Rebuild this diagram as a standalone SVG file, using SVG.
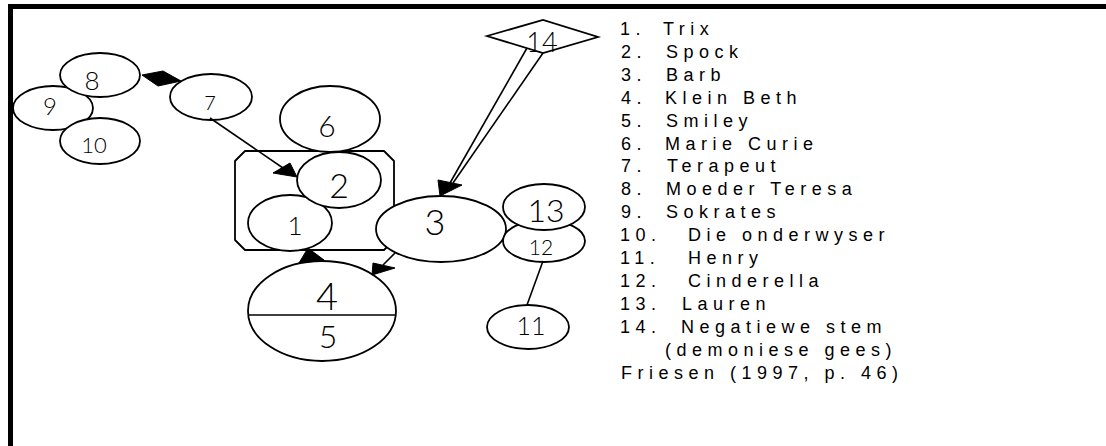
<svg xmlns="http://www.w3.org/2000/svg" width="1106" height="446" viewBox="0 0 1106 446">
<style>
.n{fill:#fff;stroke:#000;stroke-width:1.8}
.d{font-family:Lato,"Liberation Sans",Arial,sans-serif;font-weight:300;fill:#000;text-anchor:middle}
.c{stroke:#000;stroke-width:1.6;fill:none}
.h{fill:#000;stroke:#000;stroke-width:1}
.lg{font-family:"Liberation Sans",Arial,sans-serif;font-size:18px;letter-spacing:5.5px;fill:#000}
</style>
<rect x="0" y="0" width="1106" height="446" fill="#fff"/>
<g id="frame">
<rect x="8" y="4" width="1098" height="5" fill="#000"/>
<rect x="8" y="4" width="5" height="442" fill="#000"/>
</g>
<g id="group-1-2"><path class="n" d="M245,151 H384 L394,161 V240 L384,250 H245 L235,240 V161 Z" stroke-linejoin="round"/></g>
<g id="node-6"><ellipse class="n" cx="330" cy="119" rx="50" ry="33"/><text class="d" x="327" y="137" font-size="30">6</text></g>
<g id="node-1"><ellipse class="n" cx="290" cy="223" rx="42" ry="28"/><text class="d" x="295" y="235" font-size="26">1</text></g>
<g id="node-2"><ellipse class="n" cx="339" cy="180" rx="42" ry="28"/><text class="d" x="339" y="198" font-size="34">2</text></g>
<g id="node-3"><ellipse class="n" cx="441" cy="229" rx="65" ry="33"/><text class="d" x="435" y="235" font-size="36">3</text></g>
<g id="node-4-5"><ellipse class="n" cx="322" cy="311" rx="74" ry="50"/><line class="c" x1="248" y1="315" x2="396" y2="315"/><text class="d" x="327" y="310" font-size="38">4</text><text class="d" x="328" y="348" font-size="32">5</text></g>
<g id="node-12"><ellipse class="n" cx="544" cy="241" rx="41" ry="21"/><text class="d" x="541" y="255" font-size="21">12</text></g>
<g id="node-13"><ellipse class="n" cx="544" cy="207" rx="41" ry="23"/><text class="d" x="546" y="222" font-size="32">13</text></g>
<g id="node-11"><ellipse class="n" cx="528" cy="327" rx="41" ry="22"/><text class="d" x="531" y="335" font-size="25">11</text></g>
<g id="node-9"><ellipse class="n" cx="53" cy="108" rx="40" ry="22"/><text class="d" x="50" y="115" font-size="24">9</text></g>
<g id="node-8"><ellipse class="n" cx="100" cy="75" rx="40" ry="22"/><text class="d" x="92" y="90" font-size="26">8</text></g>
<g id="node-10"><ellipse class="n" cx="100" cy="141" rx="40" ry="23"/><text class="d" x="94" y="153" font-size="22">10</text></g>
<g id="node-7"><ellipse class="n" cx="211" cy="97" rx="41" ry="23"/><text class="d" x="210" y="110" font-size="20">7</text></g>
<g id="node-14"><polygon class="n" points="487,36 543,20 598,37 543,53"/><text class="d" x="542" y="52" font-size="27">14</text></g>
<g id="connectors">
<polygon class="h" points="142,75 163,71 181,81 158,86"/>
<line class="c" x1="210" y1="118" x2="283" y2="168"/>
<polygon class="h" points="297,177 273,173 290,163"/>
<line class="c" x1="527" y1="48" x2="450" y2="183"/>
<line class="c" x1="543" y1="53" x2="453" y2="183"/>
<polygon class="h" points="440,196 438,180 462,185"/>
<line class="c" x1="395" y1="253" x2="383" y2="265"/>
<polygon class="h" points="372,275 373,263 395,268"/>
<polygon class="h" points="308,248 299,263 324,260"/>
<line class="c" x1="543" y1="261" x2="527" y2="305"/>
</g>
<g id="legend">
<text class="lg" y="35"><tspan x="620">1.</tspan><tspan x="663">Trix</tspan></text>
<text class="lg" y="57.9"><tspan x="621">2.</tspan><tspan x="666">Spock</tspan></text>
<text class="lg" y="80.8"><tspan x="621">3.</tspan><tspan x="666">Barb</tspan></text>
<text class="lg" y="103.7"><tspan x="621">4.</tspan><tspan x="665">Klein Beth</tspan></text>
<text class="lg" y="126.6"><tspan x="621">5.</tspan><tspan x="666">Smiley</tspan></text>
<text class="lg" y="149.5"><tspan x="621">6.</tspan><tspan x="665">Marie Curie</tspan></text>
<text class="lg" y="172.4"><tspan x="621">7.</tspan><tspan x="667">Terapeut</tspan></text>
<text class="lg" y="195.3"><tspan x="621">8.</tspan><tspan x="666">Moeder Teresa</tspan></text>
<text class="lg" y="218.2"><tspan x="621">9.</tspan><tspan x="666">Sokrates</tspan></text>
<text class="lg" y="241.1"><tspan x="620">10.</tspan><tspan x="688">Die onderwyser</tspan></text>
<text class="lg" y="264"><tspan x="620">11.</tspan><tspan x="688">Henry</tspan></text>
<text class="lg" y="286.9"><tspan x="620">12.</tspan><tspan x="688">Cinderella</tspan></text>
<text class="lg" y="309.8"><tspan x="620">13.</tspan><tspan x="682">Lauren</tspan></text>
<text class="lg" y="332.7"><tspan x="620">14.</tspan><tspan x="681">Negatiewe stem</tspan></text>
<text class="lg" y="355.6"><tspan x="665">(demoniese gees)</tspan></text>
<text class="lg" y="378.5"><tspan x="621">Friesen (1997, p. 46)</tspan></text>
</g>
</svg>
